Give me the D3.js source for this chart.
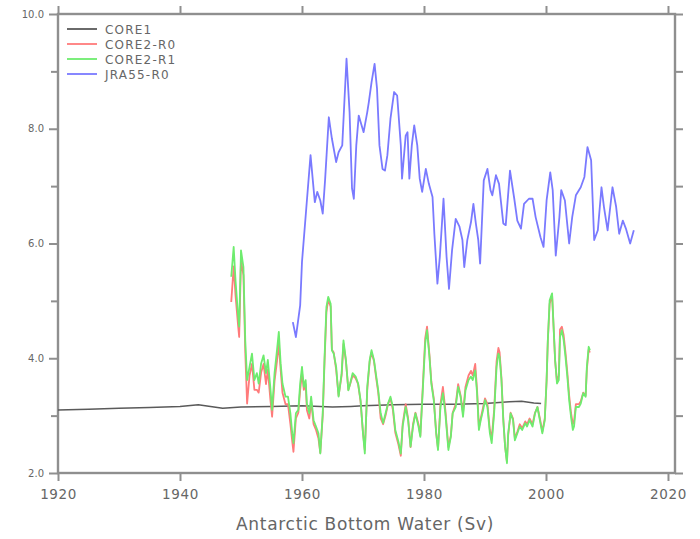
<!DOCTYPE html>
<html>
<head>
<meta charset="utf-8">
<script src="https://cdn.jsdelivr.net/npm/d3@7"></script>
<style>
  body { margin: 0; background: #fff; }
  text { font-family: "DejaVu Sans", sans-serif; fill: #666; }
</style>
</head>
<body>
<svg id="chart" width="700" height="539"></svg>
<script>
// series names (legend order = draw order)
const seriesNames = ["CORE1", "CORE2-R0", "CORE2-R1", "JRA55-R0"];
const seriesColors = ["#5a5a5a", "#ff7b7b", "#6eec6e", "#7a7aff"];

const xTicks = [1920, 1940, 1960, 1980, 2000, 2020];
const yTicks = [2, 4, 6, 8, 10];
const yMinor = [3, 5, 7, 9];

// CORE1
const core1Years = [1920, 1925, 1930, 1935, 1940, 1943, 1945, 1947, 1950, 1955, 1960, 1965, 1968, 1970, 1975, 1980, 1985, 1990, 1994, 1996, 1998, 1999.2];
const core1 = [3.10, 3.11, 3.13, 3.14, 3.16, 3.19, 3.16, 3.13, 3.15, 3.16, 3.17, 3.15, 3.16, 3.17, 3.19, 3.20, 3.20, 3.21, 3.24, 3.25, 3.22, 3.21];

// CORE2 (R0 and R1 share the time axis)
const core2Years = [1948.4, 1948.8, 1949.1, 1949.5, 1949.7, 1950.0, 1950.4, 1950.7, 1951.0, 1951.4, 1951.8, 1952.2, 1952.6, 1952.9, 1953.3, 1953.7, 1954.1, 1954.4, 1954.8, 1955.1,
  1955.5, 1955.9, 1956.2, 1956.5, 1956.8, 1957.3, 1957.7, 1958.1, 1958.4, 1958.6, 1959.0, 1959.4, 1959.7, 1960.0, 1960.3, 1960.6, 1960.8, 1961.2, 1961.5, 1961.9,
  1962.3, 1962.7, 1963.0, 1963.4, 1963.7, 1964.0, 1964.3, 1964.7, 1964.9, 1965.2, 1965.6, 1966.0, 1966.5, 1966.8, 1967.2, 1967.6, 1967.9, 1968.3, 1968.8, 1969.2,
  1969.6, 1970.0, 1970.3, 1970.7, 1971.1, 1971.4, 1971.8, 1972.1, 1972.5, 1972.9, 1973.3, 1973.7, 1974.1, 1974.5, 1974.9, 1975.3, 1975.8, 1976.2, 1976.5, 1977.0,
  1977.4, 1977.8, 1978.2, 1978.6, 1979.1, 1979.4, 1979.8, 1980.2, 1980.5, 1980.9, 1981.2, 1981.6, 1982.0, 1982.3, 1982.7, 1983.1, 1983.5, 1984.0, 1984.4, 1984.7,
  1985.2, 1985.6, 1986.0, 1986.4, 1986.8, 1987.3, 1987.7, 1988.0, 1988.4, 1988.7, 1989.0, 1989.3, 1989.7, 1990.0, 1990.4, 1990.8, 1991.1, 1991.5, 1991.9, 1992.2,
  1992.4, 1992.7, 1993.0, 1993.3, 1993.6, 1993.8, 1994.2, 1994.6, 1994.9, 1995.3, 1995.7, 1996.1, 1996.6, 1996.9, 1997.3, 1997.8, 1998.2, 1998.6, 1999.0, 1999.4,
  1999.8, 2000.1, 2000.3, 2000.6, 2001.0, 2001.2, 2001.5, 2001.8, 2002.1, 2002.3, 2002.6, 2002.9, 2003.2, 2003.5, 2003.8, 2004.1, 2004.4, 2004.6, 2004.9, 2005.4,
  2005.7, 2006.1, 2006.5, 2006.7, 2007.0, 2007.2];

const core2R0 = [4.98, 5.60, 5.10, 4.60, 4.37, 5.70, 5.45, 4.10, 3.21, 3.70, 3.90, 3.45, 3.45, 3.40, 3.75, 3.90, 3.55, 3.80, 3.30, 2.98,
  3.60, 3.95, 4.25, 3.80, 3.40, 3.20, 3.20, 2.85, 2.55, 2.37, 2.95, 3.05, 3.45, 3.75, 3.45, 3.55, 3.10, 2.95, 3.25, 2.85,
  2.75, 2.60, 2.35, 3.00, 3.95, 4.80, 5.02, 4.90, 4.15, 4.10, 3.80, 3.35, 3.70, 4.25, 3.95, 3.45, 3.55, 3.70, 3.65, 3.55,
  3.25, 2.70, 2.40, 3.45, 3.95, 4.10, 3.95, 3.70, 3.40, 2.95, 2.85, 3.00, 3.20, 3.30, 3.10, 2.70, 2.50, 2.30, 2.85, 3.20,
  2.95, 2.45, 2.85, 3.05, 2.85, 2.65, 3.50, 4.35, 4.55, 4.05, 3.60, 3.30, 2.70, 2.42, 3.20, 3.50, 3.10, 2.45, 2.65, 3.05,
  3.20, 3.55, 3.35, 3.05, 3.50, 3.70, 3.78, 3.70, 3.90, 3.45, 2.80, 2.95, 3.15, 3.30, 3.20, 2.75, 2.60, 3.10, 3.95, 4.18,
  4.10, 3.65, 2.95, 2.45, 2.20, 2.65, 3.05, 2.95, 2.60, 2.72, 2.85, 2.78, 2.90, 2.85, 2.95, 2.85, 3.05, 3.15, 2.95, 2.72,
  2.95, 3.60, 4.30, 4.95, 5.10, 4.65, 3.95, 3.60, 3.70, 4.50, 4.55, 4.40, 4.10, 3.75, 3.35, 3.05, 2.85, 2.90, 3.20, 3.20,
  3.25, 3.40, 3.35, 3.80, 4.15, 4.10];

const core2R1 = [5.42, 5.94, 5.36, 4.78, 4.55, 5.88, 5.59, 4.31, 3.62, 3.85, 4.08, 3.62, 3.74, 3.56, 3.91, 4.05, 3.74, 3.97, 3.50, 3.10,
  3.74, 4.14, 4.46, 3.91, 3.56, 3.33, 3.33, 3.04, 2.69, 2.52, 3.04, 3.10, 3.56, 3.85, 3.50, 3.62, 3.21, 3.04, 3.33, 2.92,
  2.81, 2.69, 2.34, 3.04, 4.02, 4.89, 5.07, 4.95, 4.14, 4.08, 3.85, 3.33, 3.74, 4.31, 3.97, 3.44, 3.56, 3.74, 3.68, 3.56,
  3.27, 2.69, 2.34, 3.50, 3.97, 4.14, 3.97, 3.74, 3.44, 3.04, 2.87, 3.04, 3.21, 3.33, 3.15, 2.75, 2.55, 2.34, 2.81, 3.15,
  2.92, 2.46, 2.81, 3.04, 2.81, 2.63, 3.44, 4.26, 4.49, 4.02, 3.56, 3.27, 2.69, 2.40, 3.15, 3.39, 3.04, 2.40, 2.63, 3.04,
  3.15, 3.50, 3.33, 2.98, 3.44, 3.62, 3.68, 3.62, 3.79, 3.39, 2.75, 2.92, 3.10, 3.27, 3.15, 2.69, 2.52, 3.04, 3.85, 4.08,
  4.02, 3.62, 2.92, 2.46, 2.17, 2.69, 3.04, 2.92, 2.57, 2.69, 2.81, 2.75, 2.87, 2.81, 2.92, 2.81, 3.04, 3.15, 2.92, 2.69,
  2.92, 3.62, 4.31, 5.01, 5.13, 4.66, 3.97, 3.56, 3.62, 4.37, 4.49, 4.31, 4.02, 3.68, 3.27, 2.98, 2.75, 2.81, 3.15, 3.15,
  3.21, 3.39, 3.33, 3.85, 4.20, 4.14];

// JRA55-R0
const jraYears = [1958.5, 1959.0, 1959.7, 1960.0, 1960.7, 1961.4, 1962.1, 1962.5, 1963.0, 1963.4, 1963.8, 1964.4, 1964.9, 1965.6, 1966.0, 1966.6, 1967.0, 1967.3, 1967.8, 1968.2,
  1968.5, 1968.9, 1969.3, 1970.1, 1970.7, 1970.95, 1971.4, 1971.9, 1972.3, 1972.7, 1973.2, 1973.6, 1974.0, 1974.5, 1975.1, 1975.6, 1976.2, 1976.4, 1977.0, 1977.3,
  1977.6, 1978.0, 1978.4, 1978.9, 1979.3, 1979.7, 1980.3, 1980.8, 1981.4, 1981.7, 1982.2, 1982.6, 1983.2, 1983.7, 1984.1, 1984.6, 1985.2, 1985.8, 1986.3, 1986.6,
  1987.1, 1987.7, 1988.1, 1988.5, 1988.9, 1989.2, 1989.8, 1990.4, 1990.9, 1991.2, 1991.8, 1992.3, 1993.0, 1993.4, 1994.1, 1994.8, 1995.3, 1995.9, 1996.4, 1997.2,
  1997.8, 1998.3, 1999.1, 1999.6, 2000.1, 2000.7, 2001.1, 2001.6, 2002.2, 2002.5, 2003.1, 2003.8, 2004.3, 2004.9, 2005.7, 2006.3, 2006.8, 2007.4, 2007.9, 2008.5,
  2009.1, 2009.5, 2010.1, 2010.9, 2011.5, 2012.0, 2012.6, 2013.1, 2013.8, 2014.4];
const jra = [4.63, 4.37, 4.92, 5.68, 6.61, 7.54, 6.72, 6.90, 6.75, 6.52, 7.13, 8.20, 7.83, 7.42, 7.59, 7.71, 8.58, 9.22, 8.29, 6.96,
  6.78, 7.71, 8.23, 7.94, 8.29, 8.46, 8.81, 9.13, 8.70, 7.71, 7.30, 7.27, 7.54, 8.17, 8.64, 8.58, 7.71, 7.13, 7.88, 7.94,
  7.13, 7.71, 8.06, 7.71, 7.13, 6.90, 7.30, 7.04, 6.81, 6.17, 5.30, 5.77, 6.78, 5.77, 5.21, 5.88, 6.43, 6.30, 6.06, 5.59,
  6.06, 6.37, 6.69, 6.35, 6.06, 5.65, 7.10, 7.30, 6.93, 6.84, 7.19, 7.04, 6.35, 6.32, 7.27, 6.78, 6.40, 6.26, 6.69, 6.78,
  6.78, 6.46, 6.11, 5.94, 6.75, 7.24, 6.93, 5.79, 6.46, 6.93, 6.75, 6.00, 6.46, 6.84, 6.98, 7.16, 7.68, 7.45, 6.06, 6.23,
  6.98, 6.64, 6.23, 6.98, 6.64, 6.17, 6.40, 6.26, 6.00, 6.23];

const svg = d3.select("#chart");
const mLeft = 58, mRight = 675, mTop = 14, mBottom = 473;

const x = d3.scaleLinear().domain([1920, 2021.15]).range([mLeft, mRight]);
const y = d3.scaleLinear().domain([2, 10]).range([mBottom, mTop]);

const frameColor = "#8f8f8f";

// frame
svg.append("rect")
  .attr("x", mLeft).attr("y", mTop)
  .attr("width", mRight - mLeft).attr("height", mBottom - mTop)
  .attr("fill", "none").attr("stroke", frameColor).attr("stroke-width", 2.4);

// axes: ticks outward on all four sides
function styleAxis(g) {
  g.select(".domain").remove();
  g.selectAll(".tick line").attr("stroke", frameColor).attr("stroke-width", 2);
  g.selectAll(".tick text").attr("fill", "#666").style("font-family", "DejaVu Sans, sans-serif");
}

svg.append("g").attr("transform", `translate(0,${mBottom})`)
  .call(d3.axisBottom(x).tickValues(xTicks).tickFormat(d3.format("d")).tickSize(8).tickPadding(8))
  .call(styleAxis)
  .selectAll(".tick text").style("font-size", "13.5px").attr("letter-spacing", 0.6);

svg.append("g").attr("transform", `translate(0,${mTop})`)
  .call(d3.axisTop(x).tickValues(xTicks).tickFormat("").tickSize(8))
  .call(styleAxis);

svg.append("g").attr("transform", `translate(${mLeft},0)`)
  .call(d3.axisLeft(y).tickValues(yTicks).tickFormat(d3.format(".1f")).tickSize(9).tickPadding(5))
  .call(styleAxis)
  .selectAll(".tick text").style("font-size", "10px");

svg.append("g").attr("transform", `translate(${mLeft},0)`)
  .call(d3.axisLeft(y).tickValues(yMinor).tickFormat("").tickSize(7))
  .call(styleAxis);

svg.append("g").attr("transform", `translate(${mRight},0)`)
  .call(d3.axisRight(y).tickValues(yTicks.concat(yMinor)).tickFormat("").tickSize(8))
  .call(styleAxis);

// series
const allSeries = [
  { years: core1Years, vals: core1 },
  { years: core2Years, vals: core2R0 },
  { years: core2Years, vals: core2R1 },
  { years: jraYears, vals: jra }
];

const line = d3.line().x(d => x(d[0])).y(d => y(d[1]));

allSeries.forEach((s, i) => {
  svg.append("path")
    .datum(s.years.map((yr, j) => [yr, s.vals[j]]))
    .attr("d", line)
    .attr("fill", "none")
    .attr("stroke", seriesColors[i])
    .attr("stroke-width", i === 0 ? 1.5 : 1.8)
    .attr("stroke-linejoin", "round");
});

// legend
const legend = svg.append("g").attr("transform", "translate(67,29)");
seriesNames.forEach((name, i) => {
  const row = legend.append("g").attr("transform", `translate(0,${i * 15})`);
  row.append("line").attr("x1", 0).attr("x2", 30).attr("y1", 0).attr("y2", 0)
    .attr("stroke", seriesColors[i]).attr("stroke-width", 1.8);
  row.append("text").attr("x", 38).attr("y", 4.5)
    .style("font-size", "12px").attr("letter-spacing", 1.2)
    .text(name);
});

// x axis title
svg.append("text")
  .attr("x", 365).attr("y", 530)
  .attr("text-anchor", "middle")
  .style("font-size", "17px").attr("letter-spacing", 0.7)
  .attr("fill", "#777")
  .text("Antarctic Bottom Water (Sv)");
</script>
</body>
</html>
